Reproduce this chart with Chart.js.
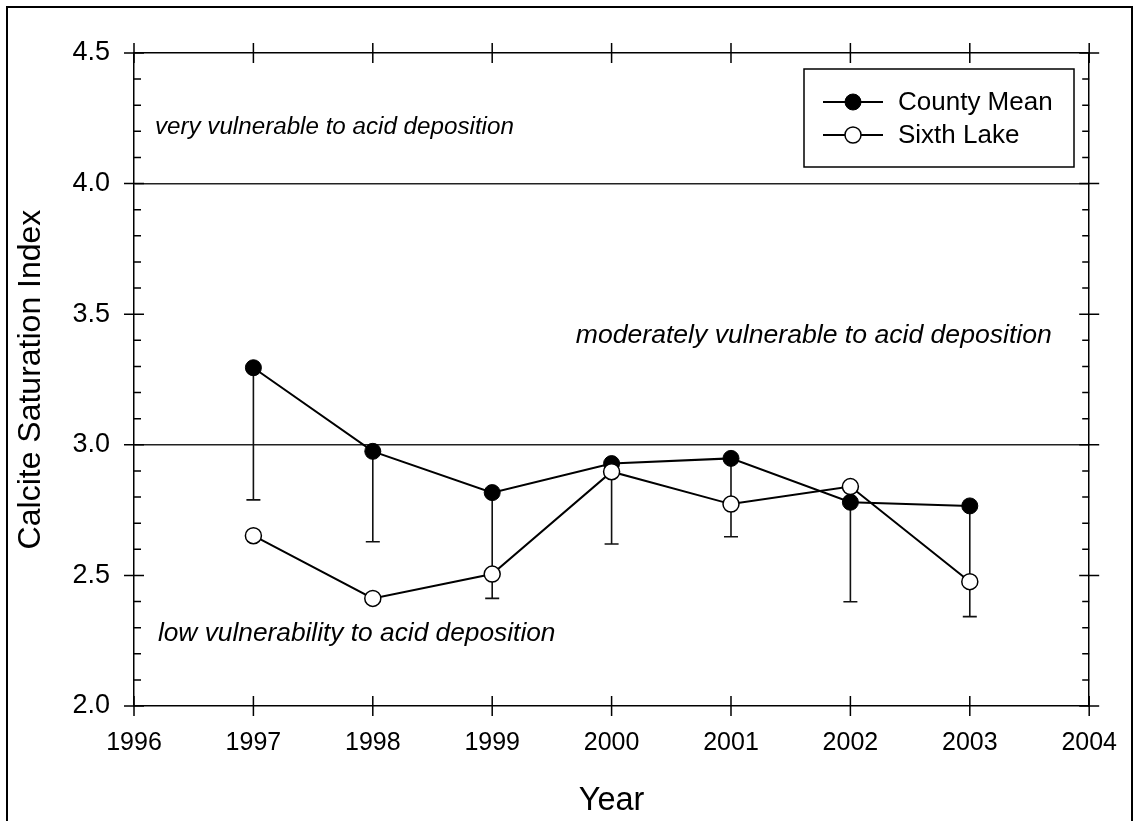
<!DOCTYPE html>
<html>
<head>
<meta charset="utf-8">
<script src="https://cdn.jsdelivr.net/npm/chart.js@4/dist/chart.umd.min.js"></script>
<style>
html,body{margin:0;padding:0;background:#fff;}
#wrap{width:1139px;height:821px;}
</style>
</head>
<body>
<div id="wrap"><canvas id="c" width="1139" height="821"></canvas></div>
<script>
// ---- data ----
const years = [1997, 1998, 1999, 2000, 2001, 2002, 2003];
const countyMean = [3.295, 2.975, 2.817, 2.928, 2.948, 2.780, 2.766];
const countyLow = [2.789, 2.629, 2.412, 2.620, 2.648, 2.399, 2.342];
const sixthLake = [2.652, 2.412, 2.505, 2.897, 2.773, 2.840, 2.476];
const xTickLabels = ['1996','1997','1998','1999','2000','2001','2002','2003','2004'];
const yTickLabels = ['2.0','2.5','3.0','3.5','4.0','4.5'];
const seriesNames = ['County Mean', 'Sixth Lake'];
const annotationTexts = ['very vulnerable to acid deposition','moderately vulnerable to acid deposition','low vulnerability to acid deposition'];

const FONT = '"Liberation Sans", Arial, Helvetica, sans-serif';
const INK = '#000';

const framePlugin = {
  id: 'frame',
  beforeDraw(chart) {
    const c = chart.ctx;
    c.save();
    c.fillStyle = '#fff';
    c.fillRect(0, 0, chart.width, chart.height);
    c.strokeStyle = INK;
    c.lineWidth = 2;
    c.beginPath();
    c.moveTo(7, 830); c.lineTo(7, 7); c.lineTo(1132, 7); c.lineTo(1132, 830);
    c.stroke();
    c.restore();
  }
};

const errorBarPlugin = {
  id: 'errbars',
  beforeDatasetsDraw(chart) {
    const c = chart.ctx, xs = chart.scales.x, ys = chart.scales.y;
    c.save();
    c.strokeStyle = '#111';
    c.lineWidth = 1.6;
    years.forEach((yr, i) => {
      const px = xs.getPixelForValue(yr);
      const p0 = ys.getPixelForValue(countyMean[i]);
      const p1 = ys.getPixelForValue(countyLow[i]);
      c.beginPath();
      c.moveTo(px, p0); c.lineTo(px, p1);
      c.moveTo(px - 7, p1); c.lineTo(px + 7, p1);
      c.stroke();
    });
    c.restore();
  }
};

const ticksPlugin = {
  id: 'tickmarks',
  afterDraw(chart) {
    const c = chart.ctx, xs = chart.scales.x, ys = chart.scales.y;
    const a = chart.chartArea;
    c.save();
    c.strokeStyle = INK;
    c.lineWidth = 1.5;
    c.beginPath();
    xTickLabels.forEach(t => {
      const px = xs.getPixelForValue(Number(t));
      c.moveTo(px, a.bottom - 10); c.lineTo(px, a.bottom + 10);
      c.moveTo(px, a.top - 10); c.lineTo(px, a.top + 10);
    });
    yTickLabels.forEach(t => {
      const py = ys.getPixelForValue(Number(t));
      c.moveTo(a.left - 10, py); c.lineTo(a.left + 10, py);
      c.moveTo(a.right - 10, py); c.lineTo(a.right + 10, py);
    });
    for (let k = 21; k < 45; k++) {
      if (k % 5 === 0) continue;
      const py = ys.getPixelForValue(k / 10);
      c.moveTo(a.left, py); c.lineTo(a.left + 7, py);
      c.moveTo(a.right, py); c.lineTo(a.right - 7, py);
    }
    c.stroke();
    c.restore();
  }
};

const annotationPlugin = {
  id: 'notes',
  afterDatasetsDraw(chart) {
    const c = chart.ctx, xs = chart.scales.x, ys = chart.scales.y;
    c.save();
    c.fillStyle = INK;
    c.textBaseline = 'middle';
    c.textAlign = 'left';
    c.font = 'italic 24.2px ' + FONT;
    c.fillText(annotationTexts[0], xs.getPixelForValue(1996.175), ys.getPixelForValue(4.215));
    c.font = 'italic 26.6px ' + FONT;
    c.fillText(annotationTexts[1], xs.getPixelForValue(1999.70), ys.getPixelForValue(3.418));
    c.font = 'italic 26.3px ' + FONT;
    c.fillText(annotationTexts[2], xs.getPixelForValue(1996.20), ys.getPixelForValue(2.278));
    c.restore();
  }
};

const legendPlugin = {
  id: 'boxlegend',
  afterDraw(chart) {
    const c = chart.ctx;
    c.save();
    c.strokeStyle = INK;
    c.lineWidth = 1.5;
    c.strokeRect(804, 69, 270, 98);
    const rows = [102, 135];
    chart.data.datasets.forEach((ds, i) => {
      const y = rows[i];
      c.beginPath();
      c.lineWidth = ds.borderWidth;
      c.strokeStyle = ds.borderColor;
      c.moveTo(823, y); c.lineTo(883, y);
      c.stroke();
      c.beginPath();
      c.arc(853, y, ds.pointRadius, 0, Math.PI * 2);
      c.fillStyle = ds.pointBackgroundColor;
      c.fill();
      c.lineWidth = ds.pointBorderWidth;
      c.strokeStyle = ds.pointBorderColor;
      c.stroke();
      c.fillStyle = INK;
      c.font = '26px ' + FONT;
      c.textBaseline = 'middle';
      c.fillText(ds.label, 898, y + 1);
    });
    c.restore();
  }
};

const toPts = arr => years.map((yr, i) => ({x: yr, y: arr[i]}));

new Chart(document.getElementById('c'), {
  type: 'line',
  data: {
    datasets: [
      {
        label: seriesNames[0],
        data: toPts(countyMean),
        borderColor: INK,
        borderWidth: 2,
        pointRadius: 8,
        pointBackgroundColor: INK,
        pointBorderColor: INK,
        pointBorderWidth: 1,
        tension: 0,
        order: 2
      },
      {
        label: seriesNames[1],
        data: toPts(sixthLake),
        borderColor: INK,
        borderWidth: 2,
        pointRadius: 8,
        pointBackgroundColor: '#fff',
        pointBorderColor: INK,
        pointBorderWidth: 1.5,
        tension: 0,
        order: 1
      }
    ]
  },
  options: {
    responsive: false,
    animation: false,
    layout: { padding: 0 },
    plugins: { legend: { display: false }, tooltip: { enabled: false } },
    scales: {
      x: {
        type: 'linear', position: 'bottom',
        min: 1996, max: 2004,
        afterFit: s => { s.height = 115; },
        afterBuildTicks: s => { s.ticks = xTickLabels.map(t => ({value: Number(t)})); },
        ticks: {
          callback: (v) => xTickLabels[xTickLabels.indexOf(String(v))] || '',
          color: INK, font: { family: FONT, size: 25 }, padding: 22, maxRotation: 0, autoSkip: false
        },
        grid: { display: false, drawTicks: false },
        border: { display: true, color: INK, width: 1.5 },
        title: { display: true, text: 'Year', color: INK, font: { family: FONT, size: 32.5 }, padding: { top: 0, bottom: 0 } }
      },
      xTop: {
        type: 'linear', position: 'top',
        min: 1996, max: 2004,
        afterFit: s => { s.height = 53; },
        ticks: { display: false },
        grid: { display: false, drawTicks: false },
        border: { display: true, color: INK, width: 1.5 }
      },
      y: {
        type: 'linear', position: 'left',
        min: 2.0, max: 4.5,
        afterFit: s => { s.width = 134; },
        afterBuildTicks: s => { s.ticks = yTickLabels.map(t => ({value: Number(t)})); },
        ticks: {
          callback: (v) => yTickLabels.find(t => Number(t) === v) || '',
          color: INK, font: { family: FONT, size: 27 }, padding: 24
        },
        grid: {
          drawTicks: false,
          lineWidth: 1.5,
          color: ctx => (ctx.tick && (ctx.tick.value === 3 || ctx.tick.value === 4)) ? '#222' : 'rgba(0,0,0,0)'
        },
        border: { display: true, color: INK, width: 1.5 },
        title: { display: true, text: 'Calcite Saturation Index', color: INK, font: { family: FONT, size: 32 }, padding: { top: 12, bottom: 0 } }
      },
      yRight: {
        type: 'linear', position: 'right',
        min: 2.0, max: 4.5,
        afterFit: s => { s.width = 45; },
        ticks: { display: false },
        grid: { display: false, drawTicks: false },
        border: { display: true, color: INK, width: 1.5 }
      }
    }
  },
  plugins: [framePlugin, errorBarPlugin, annotationPlugin, ticksPlugin, legendPlugin]
});
</script>
</body>
</html>
